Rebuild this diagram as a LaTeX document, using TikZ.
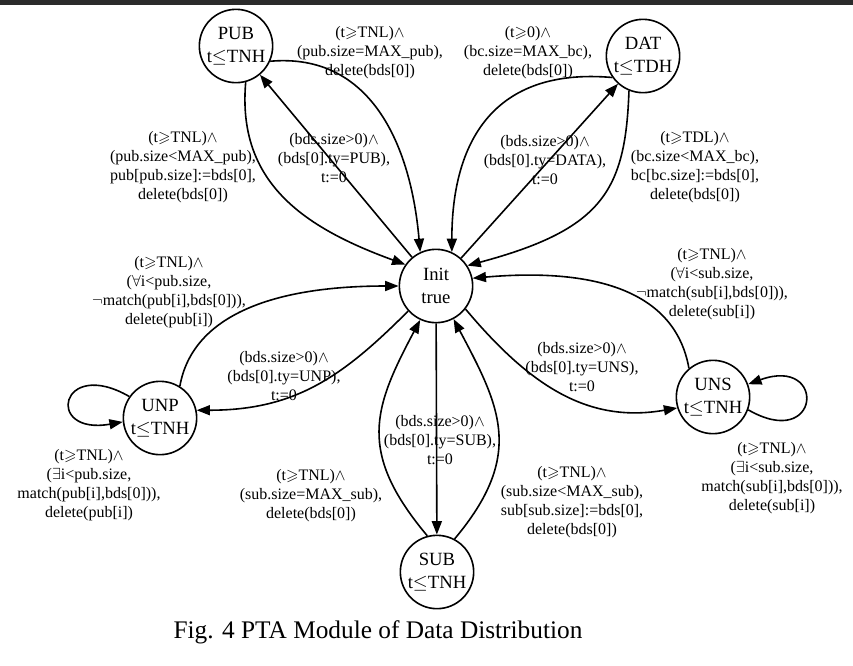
\documentclass[tikz,border=0pt]{standalone}
\usepackage{amssymb}
\usepackage{fontspec}
\setmainfont{Liberation Serif}
\usetikzlibrary{arrows.meta}

\newcommand{\tnl}{(t$\geqslant$TNL)$\wedge$}

\begin{document}
\begin{tikzpicture}[x=0.75pt, y=0.75pt,
        statenode/.style={circle, draw=black, line width=1.2pt, minimum size=55pt, inner sep=0pt, align=center, font=\fontsize{14}{17}\selectfont},
        guard/.style={align=center, inner sep=0pt, font=\fontsize{12}{14.25}\selectfont},
        transition/.style={draw, line width=1.2pt, ->},
        >={Triangle[length=10pt, width=7.5pt]}]
    \useasboundingbox (0,0) rectangle (853,-665);
    \fill[black!83] (0,0) rectangle (853,-5);

    % states
    \node [statenode] at (436,-286) (init) {Init\\true};
    \node [statenode] at (236,-46)  (pub)  {PUB\\t$\leq$TNH};
    \node [statenode] at (643,-56)  (dat)  {DAT\\t$\leq$TDH};
    \node [statenode] at (160,-418) (unp)  {UNP\\t$\leq$TNH};
    \node [statenode] at (713,-397) (uns)  {UNS\\t$\leq$TNH};
    \node [statenode] at (437,-572) (sub)  {SUB\\t$\leq$TNH};

    % guards
    \node [guard] at (334,-158) (toPub)   {(bds.size>0)$\wedge$\\(bds[0].ty=PUB),\\t:=0};
    \node [guard] at (370,-53)  (pubMax)  {\tnl\\(pub.size=MAX\_pub),\\delete(bds[0])};
    \node [guard] at (183,-167) (pubIn)   {\tnl\\(pub.size<MAX\_pub),\\pub[pub.size]:=bds[0],\\delete(bds[0])};
    \node [guard] at (528,-53)  (datMax)  {(t$\geqslant$0)$\wedge$\\(bc.size=MAX\_bc),\\delete(bds[0])};
    \node [guard] at (545,-160) (toDat)   {(bds.size>0)$\wedge$\\(bds[0].ty=DATA),\\t:=0};
    \node [guard] at (695,-167) (datIn)   {(t$\geqslant$TDL)$\wedge$\\(bc.size<MAX\_bc),\\bc[bc.size]:=bds[0],\\delete(bds[0])};
    \node [guard] at (169,-292) (unpOut)  {\tnl\\($\forall$i<pub.size,\\$\neg$match(pub[i],bds[0])),\\delete(pub[i])};
    \node [guard] at (284,-376) (toUnp)   {(bds.size>0)$\wedge$\\(bds[0].ty=UNP),\\t:=0};
    \node [guard] at (89,-485)  (unpLoop) {\tnl\\($\exists$i<pub.size,\\match(pub[i],bds[0])),\\delete(pub[i])};
    \node [guard] at (440,-440) (toSub)   {(bds.size>0)$\wedge$\\(bds[0].ty=SUB),\\t:=0};
    \node [guard] at (311,-496) (subMax)  {\tnl\\(sub.size=MAX\_sub),\\delete(bds[0])};
    \node [guard] at (572,-502) (subIn)   {\tnl\\(sub.size<MAX\_sub),\\sub[sub.size]:=bds[0],\\delete(bds[0])};
    \node [guard] at (582,-367) (toUns)   {(bds.size>0)$\wedge$\\(bds[0].ty=UNS),\\t:=0};
    \node [guard] at (712,-284) (unsOut)  {\tnl\\($\forall$i<sub.size,\\$\neg$match(sub[i],bds[0])),\\delete(sub[i])};
    \node [guard] at (772,-478) (unsLoop) {\tnl\\($\exists$i<sub.size,\\match(sub[i],bds[0])),\\delete(sub[i])};

    \node [font=\fontsize{19}{23}\selectfont] at (378,-632) (caption) {Fig. 4 PTA Module of Data Distribution};

    % transitions
    \path[every edge/.style={transition}]
        (init) edge (pub)
        (init) edge (dat)
        (init) edge (sub)
        (pub.-24) edge[out=5, in=95, out distance=75pt, in distance=82pt] (init.115)
        (pub.-75) edge[out=-95, in=160, out distance=75pt, in distance=82pt] (init.145)
        (dat.215) edge[out=175, in=90, out distance=90pt, in distance=82pt] (init.65)
        (dat.-112) edge[out=-92, in=15, out distance=75pt, in distance=105pt] (init.33)
        (init.222) edge[out=225, in=0, out distance=68pt, in distance=75pt] (unp.12)
        (unp.58) edge[out=80, in=180, out distance=52pt, in distance=98pt] (init.180)
        (unp.145) edge[out=150, in=190, distance=60pt] (unp.186)
        (init.-38) edge[out=-50, in=190, out distance=75pt, in distance=68pt] (uns.197)
        (uns.130) edge[out=100, in=5, out distance=60pt, in distance=90pt] (init.12)
        (uns.-20) edge[out=-30, in=20, distance=63pt] (uns.20)
        (sub.105) edge[out=130, in=242, out distance=82pt, in distance=75pt] (init.245)
        (sub.62) edge[out=50, in=298, out distance=82pt, in distance=75pt] (init.298);
\end{tikzpicture}
\end{document}
